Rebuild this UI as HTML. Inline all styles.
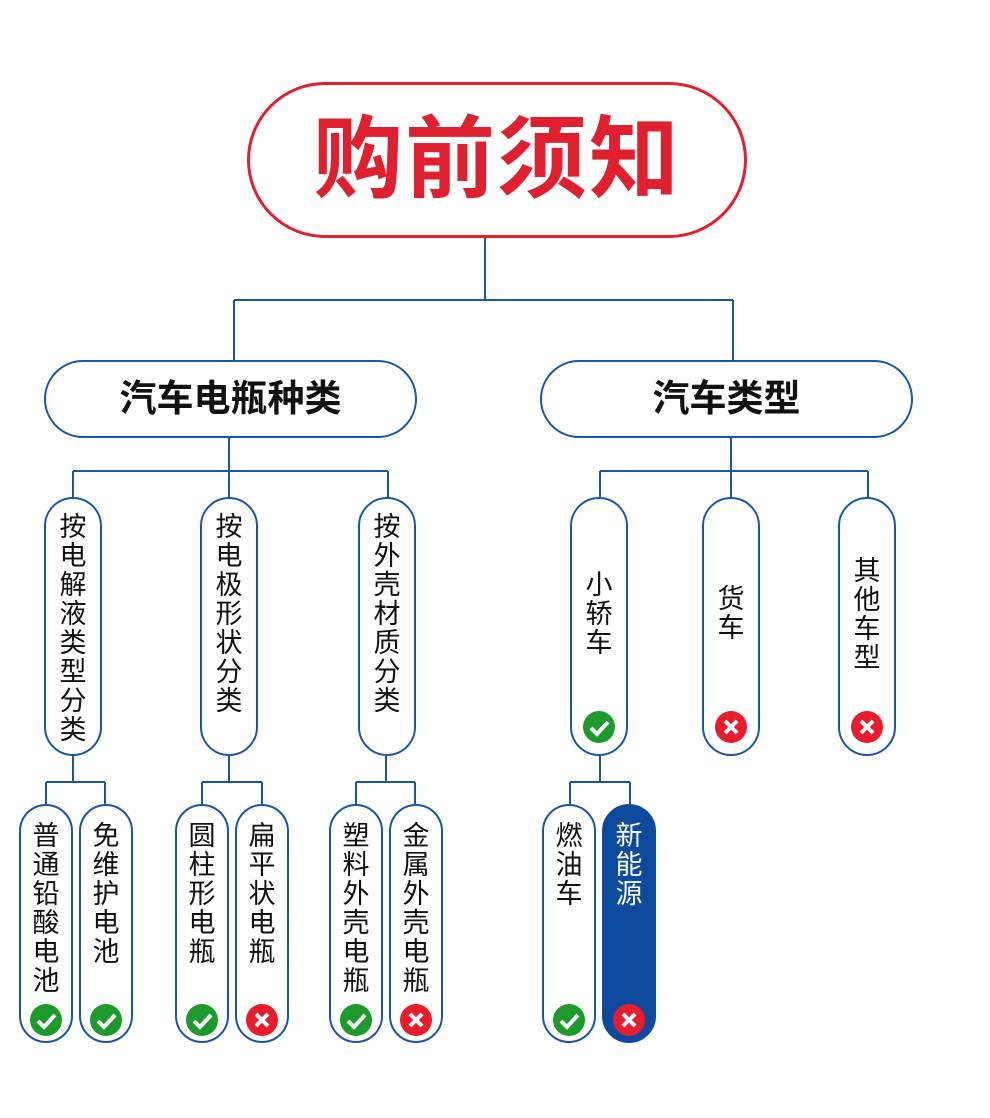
<!DOCTYPE html>
<html><head><meta charset="utf-8"><style>
body{margin:0;width:990px;height:1118px;background:#fff;position:relative;overflow:hidden;font-family:"Liberation Sans","Noto Sans CJK SC",sans-serif}
.p{position:absolute;box-sizing:border-box;border:2px solid #1a55a8;background:#fff;border-radius:40px;text-align:center;color:#111}
.v{font-size:27px;line-height:29px;padding-top:14px}
.s{font-size:27px;line-height:29px;padding-top:16px}
.ic{position:absolute;left:50%;transform:translateX(-50%);width:32px;height:32px;border-radius:50%;}
.ok{background:#1d9a2c}
.no{background:#e81c2c}
.ic svg{position:absolute;left:0;top:0}
</style></head><body>
<svg width="990" height="1118" style="position:absolute;left:0;top:0" fill="none" stroke="#1a55a8" stroke-width="2">
<path d="M485 238V300M234 300H733M234 300V360M733 300V360"/>
<path d="M229 438V471M73 471H388M73 471V497M229 471V497M388 471V497"/>
<path d="M731 438V471M600 471H868M600 471V497M731 471V497M868 471V497"/>
<path d="M73 756V782M46 782H105M46 782V804M105 782V804"/>
<path d="M229 756V782M202 782H262M202 782V804M262 782V804"/>
<path d="M386 756V782M356 782H415M356 782V804M415 782V804"/>
<path d="M600 756V782M570 782H630M570 782V804M630 782V804"/>
</svg>
<div class="p" style="left:247px;top:82px;width:500px;height:156px;border:3px solid #e0202e;border-radius:80px;color:#e0202e;font-size:90px;font-weight:bold;line-height:150px;letter-spacing:2px">购前须知</div>
<div class="p" style="left:44px;top:360px;width:373px;height:78px;font-size:37px;font-weight:bold;line-height:74px">汽车电瓶种类</div>
<div class="p" style="left:540px;top:360px;width:373px;height:78px;font-size:37px;font-weight:bold;line-height:74px">汽车类型</div>

<div class="p v" style="left:44px;top:497px;width:58px;height:259px">按<br>电<br>解<br>液<br>类<br>型<br>分<br>类</div>
<div class="p v" style="left:200px;top:497px;width:58px;height:259px">按<br>电<br>极<br>形<br>状<br>分<br>类</div>
<div class="p v" style="left:358px;top:497px;width:58px;height:259px">按<br>外<br>壳<br>材<br>质<br>分<br>类</div>

<div class="p v" style="left:570px;top:497px;width:58px;height:259px;padding-top:72px">小<br>轿<br>车<div class="ic ok" style="top:212px"><svg width="32" height="32"><path d="M8 17l6 6 11-12" stroke="#fff" stroke-width="4" fill="none"/></svg></div></div>
<div class="p v" style="left:702px;top:497px;width:58px;height:259px;padding-top:86px">货<br>车<div class="ic no" style="top:212px"><svg width="32" height="32"><path d="M10 10l12 12M22 10l-12 12" stroke="#fff" stroke-width="4"/></svg></div></div>
<div class="p v" style="left:838px;top:497px;width:58px;height:259px;padding-top:58px">其<br>他<br>车<br>型<div class="ic no" style="top:212px"><svg width="32" height="32"><path d="M10 10l12 12M22 10l-12 12" stroke="#fff" stroke-width="4"/></svg></div></div>

<div class="p s" style="left:19px;top:804px;width:54px;height:239px">普<br>通<br>铅<br>酸<br>电<br>池<div class="ic ok" style="top:198px"><svg width="32" height="32"><path d="M8 17l6 6 11-12" stroke="#fff" stroke-width="4" fill="none"/></svg></div></div>
<div class="p s" style="left:79px;top:804px;width:54px;height:239px">免<br>维<br>护<br>电<br>池<div class="ic ok" style="top:198px"><svg width="32" height="32"><path d="M8 17l6 6 11-12" stroke="#fff" stroke-width="4" fill="none"/></svg></div></div>
<div class="p s" style="left:175px;top:804px;width:54px;height:239px">圆<br>柱<br>形<br>电<br>瓶<div class="ic ok" style="top:198px"><svg width="32" height="32"><path d="M8 17l6 6 11-12" stroke="#fff" stroke-width="4" fill="none"/></svg></div></div>
<div class="p s" style="left:235px;top:804px;width:54px;height:239px">扁<br>平<br>状<br>电<br>瓶<div class="ic no" style="top:198px"><svg width="32" height="32"><path d="M10 10l12 12M22 10l-12 12" stroke="#fff" stroke-width="4"/></svg></div></div>
<div class="p s" style="left:329px;top:804px;width:54px;height:239px">塑<br>料<br>外<br>壳<br>电<br>瓶<div class="ic ok" style="top:198px"><svg width="32" height="32"><path d="M8 17l6 6 11-12" stroke="#fff" stroke-width="4" fill="none"/></svg></div></div>
<div class="p s" style="left:389px;top:804px;width:54px;height:239px">金<br>属<br>外<br>壳<br>电<br>瓶<div class="ic no" style="top:198px"><svg width="32" height="32"><path d="M10 10l12 12M22 10l-12 12" stroke="#fff" stroke-width="4"/></svg></div></div>
<div class="p s" style="left:542px;top:804px;width:54px;height:239px">燃<br>油<br>车<div class="ic ok" style="top:198px"><svg width="32" height="32"><path d="M8 17l6 6 11-12" stroke="#fff" stroke-width="4" fill="none"/></svg></div></div>
<div class="p s" style="left:602px;top:804px;width:54px;height:239px;background:#0d4a9e;border-color:#0d4a9e;color:#fff">新<br>能<br>源<div class="ic no" style="top:198px"><svg width="32" height="32"><path d="M10 10l12 12M22 10l-12 12" stroke="#fff" stroke-width="4"/></svg></div></div>
</body></html>
